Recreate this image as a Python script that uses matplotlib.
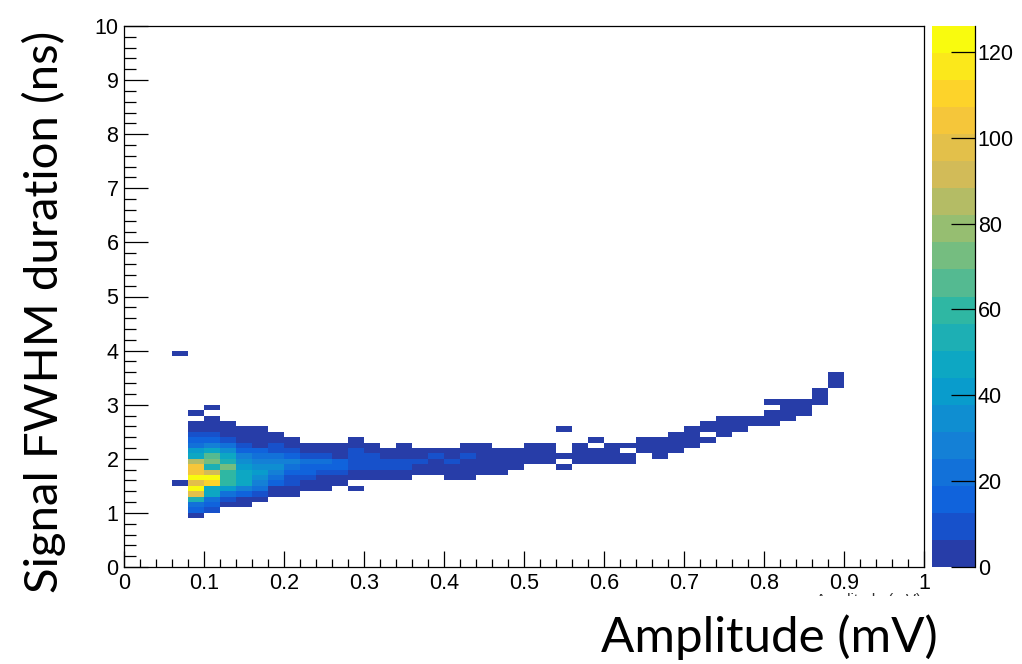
import numpy as np
import matplotlib
matplotlib.use("Agg")
from matplotlib import pyplot as plt
from matplotlib.colors import ListedColormap, BoundaryNorm, LinearSegmentedColormap
from matplotlib.patches import Rectangle

# histogram cells: column lower edge (mV), first row lower edge (ns), counts going up in 0.1 ns rows
col_x = [0.06, 0.06, 0.08, 0.10, 0.12, 0.14, 0.16, 0.18, 0.20, 0.22,
         0.24, 0.26, 0.28, 0.28, 0.30, 0.32, 0.34, 0.36, 0.38, 0.40,
         0.42, 0.44, 0.46, 0.48, 0.50, 0.52, 0.54, 0.54, 0.54, 0.56,
         0.58, 0.58, 0.60, 0.62, 0.62, 0.64, 0.66, 0.68, 0.70, 0.72,
         0.72, 0.74, 0.76, 0.78, 0.80, 0.80, 0.82, 0.84, 0.86, 0.88]
row_start = [1.5, 3.9, 0.9, 1.0, 1.1, 1.1, 1.2, 1.3, 1.3, 1.4,
             1.4, 1.5, 1.4, 1.6, 1.6, 1.6, 1.6, 1.7, 1.7, 1.6,
             1.6, 1.7, 1.7, 1.8, 1.9, 1.9, 1.8, 2.0, 2.5, 1.9,
             1.9, 2.3, 1.9, 1.9, 2.2, 2.1, 2.0, 2.1, 2.2, 2.3,
             2.5, 2.4, 2.5, 2.6, 2.6, 3.0, 2.7, 2.8, 3.0, 3.3]
counts = [
    [2], [1],
    [4, 14, 24, 55, 95, 122, 100, 126, 106, 104, 86, 50, 42, 22, 17, 11, 3, 2, 0, 1],
    [8, 18, 25, 45, 50, 110, 124, 90, 55, 70, 65, 45, 30, 16, 10, 4, 3, 2, 0, 1],
    [5, 8, 20, 40, 58, 62, 58, 75, 55, 45, 32, 20, 8, 4, 3, 2],
    [4, 6, 15, 30, 45, 50, 48, 40, 36, 26, 18, 8, 4, 3, 2],
    [4, 10, 20, 28, 36, 40, 36, 28, 22, 15, 6, 3, 3, 2],
    [3, 6, 15, 22, 28, 32, 28, 20, 12, 7, 3, 2],
    [3, 4, 10, 8, 14, 22, 30, 18, 12, 4, 2],
    [3, 4, 7, 14, 18, 20, 12, 4, 2],
    [2, 4, 6, 12, 16, 25, 10, 4, 2],
    [3, 5, 10, 14, 14, 5, 3, 2],
    [1],
    [3, 5, 10, 12, 10, 8, 4, 2],
    [3, 5, 8, 10, 8, 4, 2],
    [2, 4, 8, 8, 4, 2],
    [2, 4, 10, 10, 5, 3, 2],
    [3, 4, 8, 5, 2],
    [3, 4, 5, 9, 3],
    [2, 4, 5, 8, 4, 2],
    [2, 3, 4, 5, 9, 4, 2],
    [2, 4, 5, 5, 3, 2],
    [2, 4, 5, 4, 2],
    [2, 4, 4, 2],
    [3, 4, 4, 2],
    [3, 4, 4, 2],
    [2], [3], [1],
    [3, 4, 3, 2],
    [3, 4, 2], [1],
    [2, 4, 3, 2],
    [3, 3], [2],
    [3, 4, 2],
    [2, 4, 3, 2],
    [2, 4, 3, 2],
    [2, 3, 3, 2],
    [1], [3, 2],
    [2, 3, 3, 2],
    [2, 3, 2],
    [3, 2],
    [2, 3, 2], [1],
    [2, 3, 2, 1],
    [2, 2, 1],
    [2, 2, 1],
    [2, 2, 1],
]
z_max = 126
cbar_ticks = [0, 20, 40, 60, 80, 100, 120]
x_ticklabels = ["0", "0.1", "0.2", "0.3", "0.4", "0.5", "0.6", "0.7", "0.8", "0.9", "1"]

# binning: 50 x 100 bins over [0,1] x [0,10]
x_edges = np.linspace(0, 1, 51)
y_edges = np.linspace(0, 10, 101)
H = np.zeros((100, 50))
for cx, ry, vals in zip(col_x, row_start, counts):
    ix = int(round(cx / 0.02))
    iy = int(round(ry / 0.1))
    for k, v in enumerate(vals):
        H[iy + k, ix] = v
H = np.ma.masked_equal(H, 0)

# ROOT kBird palette, 20 contour levels
stops = [0.0, 0.125, 0.25, 0.375, 0.5, 0.625, 0.75, 0.875, 1.0]
red = [0.2082, 0.0592, 0.0780, 0.0232, 0.1802, 0.5301, 0.8186, 0.9956, 0.9764]
green = [0.1664, 0.3599, 0.5041, 0.6419, 0.7178, 0.7492, 0.7328, 0.7862, 0.9832]
blue = [0.5293, 0.8684, 0.8385, 0.7914, 0.6425, 0.4662, 0.3499, 0.1968, 0.0539]
bird = LinearSegmentedColormap.from_list(
    "bird", list(zip(stops, zip(red, green, blue))))
ndiv = 20
cols = [bird(int((i + 0.99) * 255 / ndiv) / 254.0) for i in range(ndiv)]
cmap = ListedColormap(cols)
norm = BoundaryNorm(np.linspace(0, z_max, ndiv + 1), ndiv)

plt.rcParams['font.family'] = ['Liberation Sans', 'DejaVu Sans']

W, Hpx = 1022, 664
fig = plt.figure(figsize=(W / 100, Hpx / 100), dpi=100)
ax = fig.add_axes([124 / W, 1 - 567 / Hpx, 800 / W, 541 / Hpx])
mesh = ax.pcolormesh(x_edges, y_edges, H, cmap=cmap, norm=norm,
                     edgecolors='none', antialiased=False)
ax.set_xlim(0, 1)
ax.set_ylim(0, 10)
ax.set_xticks(np.arange(0, 1.01, 0.1))
ax.set_xticklabels(x_ticklabels)
ax.set_xticks(np.arange(0, 1.001, 0.02), minor=True)
ax.set_yticks(np.arange(0, 11, 1))
ax.set_yticks(np.arange(0, 10.01, 0.2), minor=True)
ax.tick_params(axis='both', which='both', direction='in', top=False, right=False,
               labelsize=15.5, width=0.9, colors='black')
ax.tick_params(axis='x', which='major', length=11.5, pad=4)
ax.tick_params(axis='x', which='minor', length=5.8)
ax.tick_params(axis='y', which='major', length=17.3, pad=4)
ax.tick_params(axis='y', which='minor', length=8.6)
for sp in ax.spines.values():
    sp.set_linewidth(0.9)

cax = fig.add_axes([932 / W, 1 - 567 / Hpx, 43 / W, 541 / Hpx])
cb = fig.colorbar(mesh, cax=cax, ticks=cbar_ticks)
cb.outline.set_visible(False)
cax.plot([1, 1], [0, 1], transform=cax.transAxes, color='black', lw=0.9, clip_on=False)
cax.yaxis.set_ticks_position('right')
cax.tick_params(axis='y', which='major', direction='in', length=17.3, width=0.9,
                labelsize=15.5, pad=2)
cax.minorticks_off()

# leftover ROOT axis title mostly hidden under the slide text box
fig.text(921 / W, 1 - 593 / Hpx, "Amplitude (mV)", ha='right', va='top',
         fontsize=11, color='#333333')
fig.patches.append(Rectangle((560 / W, 0), 1 - 560 / W, 1 - 595.5 / Hpx,
                             transform=fig.transFigure, facecolor='white',
                             edgecolor='none', zorder=5))

fig.text(44 / W, 1 - 312 / Hpx, "Signal FWHM duration (ns)", rotation=90,
         ha='center', va='center', fontsize=34, family=['Lato', 'DejaVu Sans'], zorder=6)
fig.text(769 / W, 1 - 637 / Hpx, "Amplitude (mV)", ha='center', va='center',
         fontsize=35.5, family=['Lato', 'DejaVu Sans'], zorder=6)

fig.savefig("out.png", dpi=100)
